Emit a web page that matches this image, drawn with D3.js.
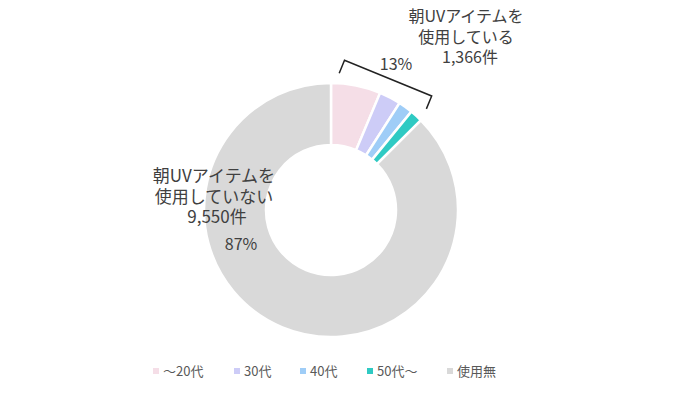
<!DOCTYPE html>
<meta charset="utf-8">
<style>
  body { margin: 0; background: #fff; }
  #chart text { font-family: "Noto Sans CJK JP", "Noto Sans", sans-serif; fill: #404040; }
</style>
<body>
  <div id="chart"></div>
  <script src="https://d3js.org/d3.v7.min.js"></script>
  <script>

    // ages of people who use a morning UV item, plus the non-users
    var categories = ["〜20代", "30代", "40代", "50代〜", "使用無"];
    var counts = [690, 300, 200, 176, 9550];
    var colors = ["#f5dee7", "#cdccf7", "#9fcdf7", "#2fcac3", "#d9d9d9"];
    var usedLabel = ["朝UVアイテムを", "使用している"];
    var notUsedLabel = ["朝UVアイテムを", "使用していない"];

    var width = 700;
    var height = 393;
    var cx = 331;
    var cy = 210;
    var outer_r = 127;
    var inner_r = 65;

    var total = d3.sum(counts);
    var used = d3.sum(counts.slice(0, 4));
    var pct = d3.format(".0%");
    var num = d3.format(",");

    var svg = d3.select("#chart")
      .append("svg")
      .attr("width", width)
      .attr("height", height);

    var pie = d3.pie().sort(null).value(function(d) { return d; });
    var arcs = pie(counts);
    var arc = d3.arc().innerRadius(inner_r).outerRadius(outer_r);

    var g = svg.append("g").attr("transform", "translate(" + cx + "," + cy + ")");

    g.selectAll("path")
      .data(arcs)
      .enter().append("path")
      .attr("d", arc)
      .attr("fill", function(d, i) { return colors[i]; })
      .attr("stroke", "#fff")
      .attr("stroke-width", 2.5);

    // bracket over the users' slices
    function polar(r, a) { return [r * Math.sin(a), -r * Math.cos(a)]; }
    var a0 = arcs[0].startAngle + 0.06;
    var a1 = arcs[3].endAngle - 0.03;
    var p0 = polar(outer_r + 10, a0);
    var p1 = polar(outer_r + 12, a1);
    var dx = p1[0] - p0[0], dy = p1[1] - p0[1];
    var len = Math.sqrt(dx * dx + dy * dy);
    var nx = dy / len * 14, ny = -dx / len * 14;
    g.append("path")
      .attr("d", d3.line()([p0, [p0[0] + nx, p0[1] + ny], [p1[0] + nx, p1[1] + ny], p1]))
      .attr("fill", "none")
      .attr("stroke", "#222")
      .attr("stroke-width", 1.5);

    svg.append("text")
      .attr("x", 396).attr("y", 70)
      .attr("text-anchor", "middle")
      .attr("font-size", 16)
      .text(pct(used / total));

    // one text per line so the lines stay apart
    usedLabel.concat([num(used) + "件"]).forEach(function(s, i) {
      svg.append("text")
        .attr("text-anchor", "middle")
        .attr("font-size", 16)
        .attr("x", i == 2 ? 470 : 466).attr("y", 22 + i * 20.5)
        .text(s);
    });

    notUsedLabel.concat([num(counts[4]) + "件"]).forEach(function(s, i) {
      svg.append("text")
        .attr("text-anchor", "middle")
        .attr("font-size", 17)
        .attr("x", i == 2 ? 217 : 214).attr("y", 182 + i * 20.5)
        .text(s);
    });
    svg.append("text")
      .attr("x", 241).attr("y", 250)
      .attr("text-anchor", "middle")
      .attr("font-size", 16)
      .text(pct(counts[4] / total));

    // legend
    var legend_x = [156, 237, 303, 370, 450];
    var legend = svg.selectAll(".legend")
      .data(categories)
      .enter().append("g")
      .attr("class", "legend")
      .attr("transform", function(d, i) { return "translate(" + legend_x[i] + ",371)"; });
    legend.append("rect")
      .attr("x", -3).attr("y", -3)
      .attr("width", 6).attr("height", 6)
      .attr("fill", function(d, i) { return colors[i]; });
    legend.append("text")
      .attr("x", 7).attr("y", 5)
      .attr("font-size", 13)
      .style("fill", "#595959")
      .text(function(d) { return d; });
  </script>
</body>
